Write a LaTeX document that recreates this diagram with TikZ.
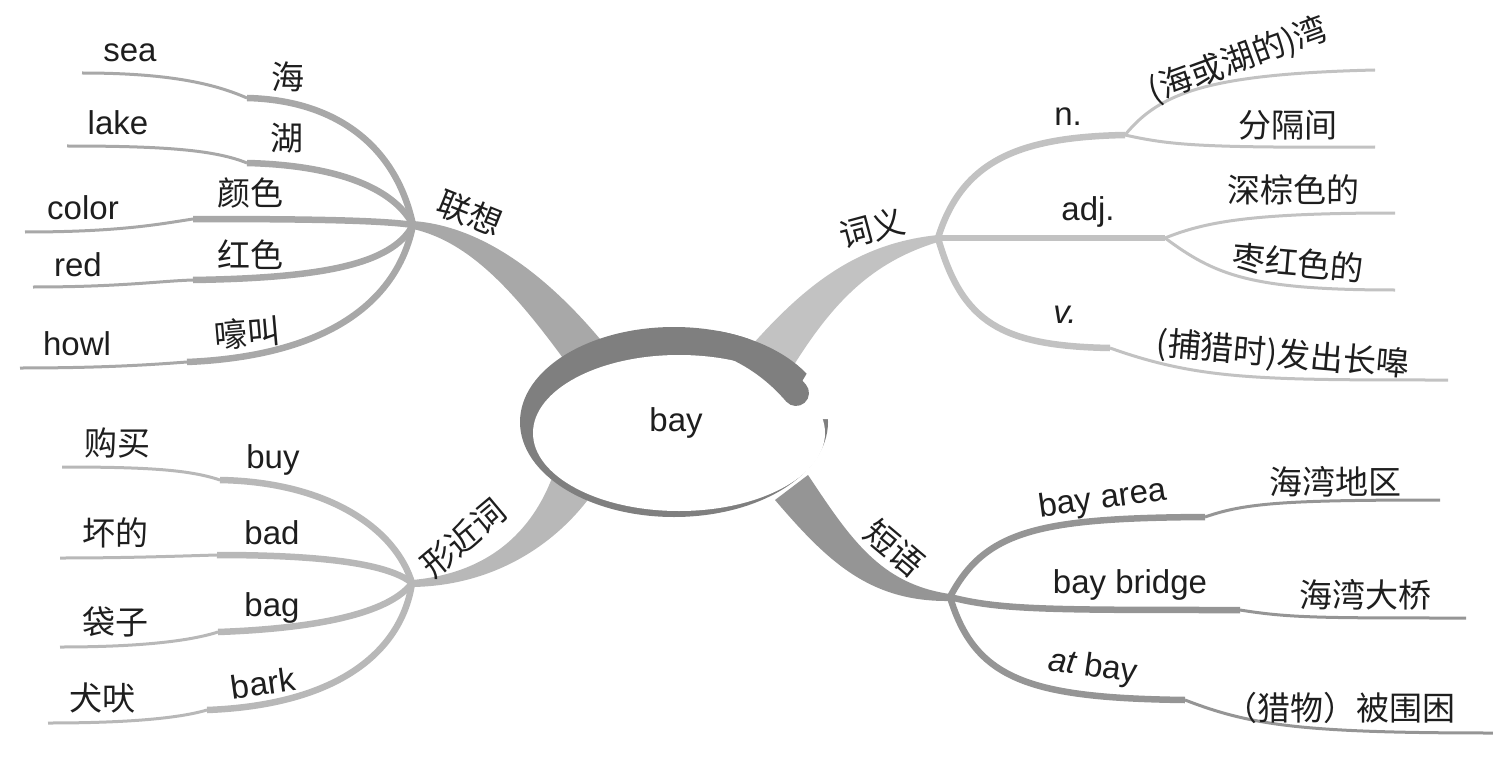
\documentclass[tikz,border=0pt]{standalone}
\usepackage{fontspec}
\setmainfont{Liberation Sans}
\newfontfamily\cjk{Noto Sans CJK SC}
\definecolor{cL}{HTML}{A8A8A8}
\definecolor{cS}{HTML}{B8B8B8}
\definecolor{cW}{HTML}{C2C2C2}
\definecolor{cP}{HTML}{959595}
\definecolor{ringc}{HTML}{7F7F7F}
\definecolor{txt}{HTML}{1E1E1E}
\tikzset{
  stem/.style={line width=6.5pt},
  twig/.style={line width=3pt},
  lat/.style={font=\fontsize{33}{36}\selectfont, inner sep=0pt, text=txt},
  zh/.style={font=\cjk\fontsize{33}{36}\selectfont, inner sep=0pt, text=txt},
}
\begin{document}
\begin{tikzpicture}[x=1pt,y=-1pt]
\useasboundingbox (0,0) rectangle (1493,770);
% hubs
\coordinate (L) at (413,225);
\coordinate (S) at (412,583);
\coordinate (M) at (938,238);
\coordinate (P) at (950,597);
% ---------- main branches (filled, tapering) ----------
\fill[cL] (413,221) .. controls (480,226) and (545,272) .. (605,345)
  -- (568,365) .. controls (515,292) and (470,242) .. (413,229) -- cycle;
\fill[cW] (938,235) .. controls (860,243) and (808,282) .. (752,345)
  -- (792,368) .. controls (833,302) and (872,262) .. (938,242) -- cycle;
\fill[cS] (412,580) .. controls (480,574) and (528,540) .. (552,478)
  -- (590,497) .. controls (552,548) and (490,586) .. (412,587) -- cycle;
\fill[cP] (950,594) .. controls (880,584) and (850,538) .. (808,475)
  -- (775,500) .. controls (828,562) and (870,602) .. (950,601) -- cycle;
% ---------- left top: 联想 ----------
\coordinate (e1) at (82,73);  \coordinate (d1) at (247,98);
\coordinate (e2) at (67,146); \coordinate (d2) at (247,163);
\coordinate (e3) at (25,232); \coordinate (d3) at (193,219);
\coordinate (e4) at (33,287); \coordinate (d4) at (193,280);
\coordinate (e5) at (20,368); \coordinate (d5) at (187,362);
\begin{scope}[cL]
\draw[twig] (e1) .. controls (170,73) and (215,84) .. (d1);
\draw[stem] (d1) .. controls (335,100) and (396,145) .. (L);
\draw[twig] (e2) .. controls (165,146) and (215,150) .. (d2);
\draw[stem] (d2) .. controls (330,165) and (392,185) .. (L);
\draw[twig] (e3) .. controls (120,232) and (160,224) .. (d3);
\draw[stem] (d3) .. controls (300,219) and (380,220) .. (L);
\draw[twig] (e4) .. controls (120,287) and (160,281) .. (d4);
\draw[stem] (d4) .. controls (320,278) and (392,265) .. (L);
\draw[twig] (e5) .. controls (110,368) and (160,364) .. (d5);
\draw[stem] (d5) .. controls (330,356) and (398,300) .. (L);
\end{scope}
% ---------- left bottom: 形近词 ----------
\coordinate (f1) at (62,467); \coordinate (g1) at (220,480);
\coordinate (f2) at (60,558); \coordinate (g2) at (217,555);
\coordinate (f3) at (60,647); \coordinate (g3) at (218,632);
\coordinate (f4) at (48,723); \coordinate (g4) at (207,710);
\begin{scope}[cS]
\draw[twig] (f1) .. controls (150,467) and (190,470) .. (g1);
\draw[stem] (g1) .. controls (330,482) and (396,530) .. (S);
\draw[twig] (f2) .. controls (130,558) and (180,556) .. (g2);
\draw[stem] (g2) .. controls (330,555) and (390,565) .. (S);
\draw[twig] (f3) .. controls (140,647) and (190,641) .. (g3);
\draw[stem] (g3) .. controls (330,628) and (392,610) .. (S);
\draw[twig] (f4) .. controls (130,723) and (180,718) .. (g4);
\draw[stem] (g4) .. controls (340,705) and (402,650) .. (S);
\end{scope}
% ---------- right top: 词义 ----------
\coordinate (N) at (1125,135);
\coordinate (A) at (1165,238);
\coordinate (V) at (1110,348);
\coordinate (n1) at (1375,70);
\coordinate (n2) at (1375,147);
\coordinate (a1) at (1395,213);
\coordinate (a2) at (1395,290);
\coordinate (v1) at (1448,380);
\begin{scope}[cW]
\draw[stem] (M) .. controls (962,160) and (1020,137) .. (N);
\draw[twig] (N) .. controls (1160,92) and (1210,74) .. (n1);
\draw[twig] (N) .. controls (1170,145) and (1200,148) .. (n2);
\draw[stem] (M) -- (A);
\draw[twig] (A) .. controls (1205,222) and (1250,213) .. (a1);
\draw[twig] (A) .. controls (1215,275) and (1250,290) .. (a2);
\draw[stem] (M) .. controls (962,322) and (1000,346) .. (V);
\draw[twig] (V) .. controls (1200,380) and (1260,380) .. (v1);
\end{scope}
% ---------- right bottom: 短语 ----------
\coordinate (p1) at (1205,517); \coordinate (q1) at (1440,500);
\coordinate (p2) at (1240,610); \coordinate (q2) at (1466,618);
\coordinate (p3) at (1185,700); \coordinate (q3) at (1493,733);
\begin{scope}[cP]
\draw[stem] (P) .. controls (985,530) and (1040,518) .. (p1);
\draw[twig] (p1) .. controls (1245,503) and (1285,500) .. (q1);
\draw[stem] (P) .. controls (1000,610) and (1050,610) .. (p2);
\draw[twig] (p2) .. controls (1290,618) and (1320,618) .. (q2);
\draw[stem] (P) .. controls (975,680) and (1030,698) .. (p3);
\draw[twig] (p3) .. controls (1250,725) and (1300,733) .. (q3);
\end{scope}
% ---------- central ellipse ----------
\fill[ringc] (674,422) ellipse [x radius=154, y radius=95];
\fill[white] (679,433) ellipse [x radius=146, y radius=78];
\fill[white] (770,419) -- (845,419) -- (845,360) -- (815,360) -- (788,405) -- cycle;
\begin{scope}
\clip (674,422) ellipse [x radius=154, y radius=95];
\draw[ringc, line width=26pt, line cap=round] (724,342) .. controls (755,354) and (778,372) .. (796,393);
\end{scope}
\node[lat] (center) at (676,423) {bay};
% ---------- texts ----------
\node[lat] (tsea) at (130,53) {sea};
\node[lat] (tlake) at (118,123) {lake};
\node[lat] (tcolor) at (83,208) {color};
\node[lat] (tred) at (78,265) {red};
\node[lat] (thowl) at (77,344) {howl};
\node[zh] (thai) at (288,77) {海};
\node[zh] (thu) at (287,138) {湖};
\node[zh] (tyanse) at (250,193) {颜色};
\node[zh] (thongse) at (250,255) {红色};
\node[zh, rotate=5] (thaojiao) at (247,333) {嚎叫};
\node[zh, rotate=-22] (tlx) at (470,213) {联想};
\node[zh] (tgoumai) at (117,443) {购买};
\node[zh] (thuaide) at (115,533) {坏的};
\node[zh] (tdaizi) at (115,622) {袋子};
\node[zh] (tquanfei) at (102,698) {犬吠};
\node[lat] (tbuy) at (273,460) {buy};
\node[lat] (tbad) at (272,533) {bad};
\node[lat] (tbag) at (272,608) {bag};
\node[lat, rotate=8] (tbark) at (263,683) {bark};
\node[zh, rotate=40] (txjc) at (463,538) {形近词};
\node[zh, rotate=15] (tcy) at (872,228) {词义};
\node[lat] (tn) at (1068,117) {n.};
\node[lat] (tadj) at (1088,212) {adj.};
\node[lat] (tv) at (1065,315) {\itshape v.};
\node[zh, rotate=20] (tn1) at (1238,60) {(海或湖的)湾};
\node[zh] (tn2) at (1288,125) {分隔间};
\node[zh] (ta1) at (1293,190) {深棕色的};
\node[zh, rotate=-5] (ta2) at (1298,263) {枣红色的};
\node[zh, rotate=-5] (tv1) at (1283,355) {(捕猎时)发出长嗥};
\node[zh, rotate=-40] (tdy) at (895,548) {短语};
\node[lat, rotate=8] (tp1) at (1103,500) {bay area};
\node[lat] (tp2) at (1130,585) {bay bridge};
\node[lat, rotate=-8] (tp3) at (1093,668) {\itshape at\upshape\ bay};
\node[zh] (tq1) at (1335,482) {海湾地区};
\node[zh] (tq2) at (1365,595) {海湾大桥};
\node[zh] (tq3) at (1340,708) {（猎物）被围困};
\end{tikzpicture}
\end{document}
